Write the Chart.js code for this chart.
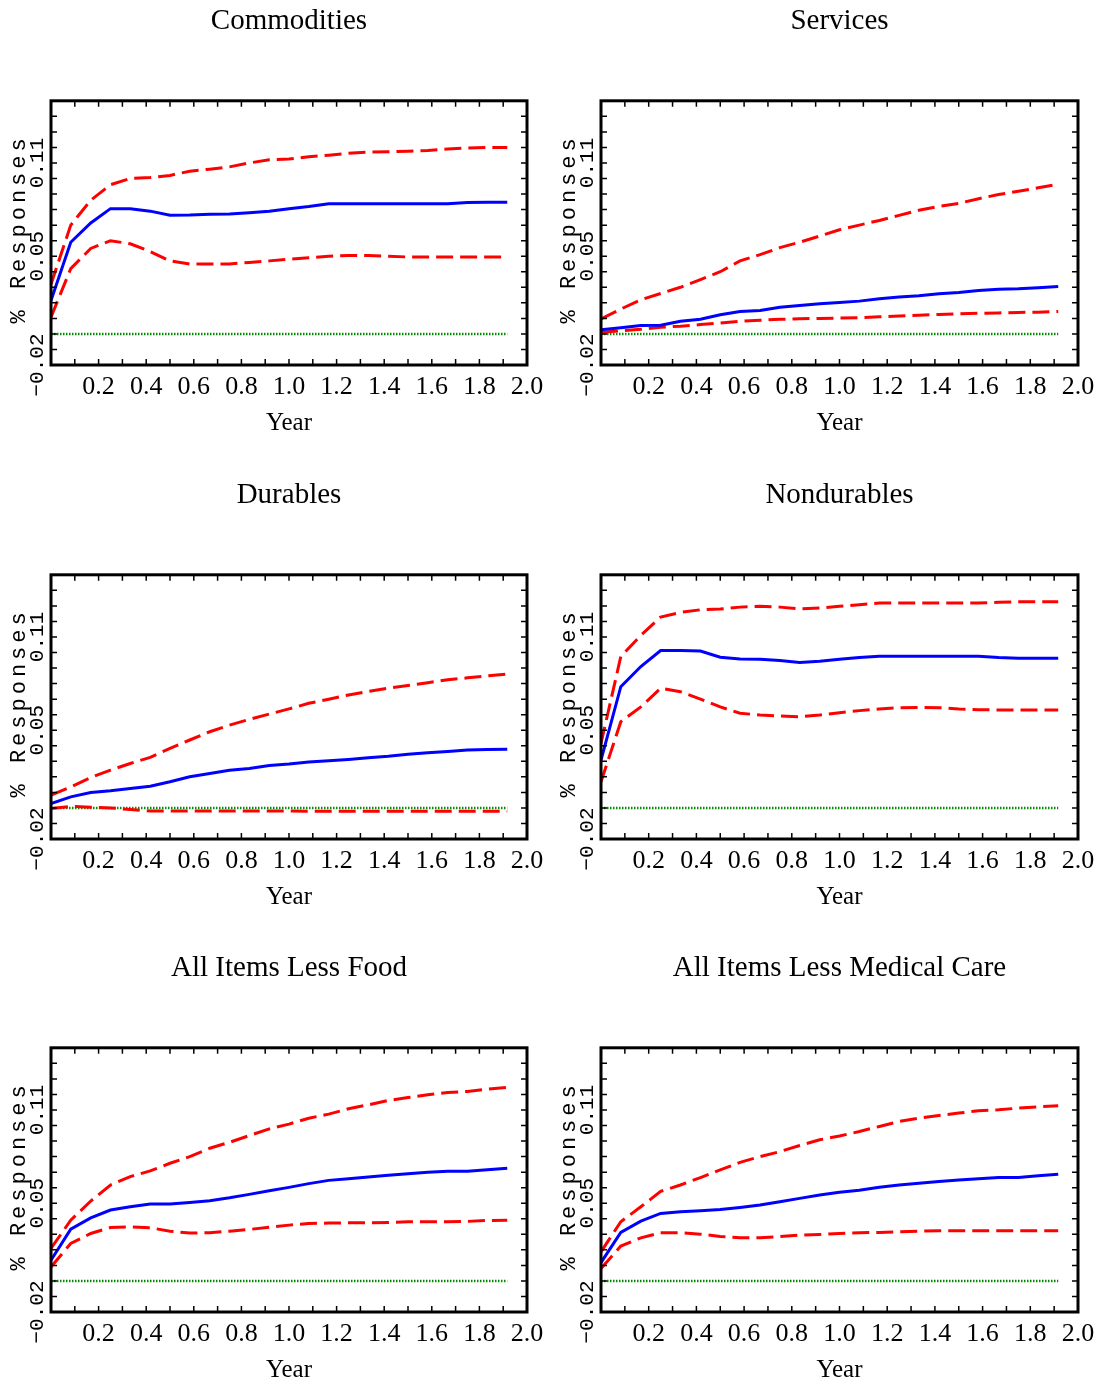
<!DOCTYPE html>
<html>
<head>
<meta charset="utf-8">
<script src="https://cdn.jsdelivr.net/npm/chart.js@4/dist/chart.umd.min.js"></script>
<style>
  body { margin: 0; background: #fff; overflow: hidden; }
  #page { position: relative; width: 1097px; height: 1388px; }
  canvas { position: absolute; }
</style>
</head>
<body>
<div id="page"></div>
<script>
// monthly horizon, in years
const years = [0, 0.083, 0.167, 0.25, 0.333, 0.417, 0.5, 0.583, 0.667, 0.75, 0.833, 0.917,
               1.0, 1.083, 1.167, 1.25, 1.333, 1.417, 1.5, 1.583, 1.667, 1.75, 1.833, 1.917];

const xTickLabels = ['0.2', '0.4', '0.6', '0.8', '1.0', '1.2', '1.4', '1.6', '1.8', '2.0'];
const yTickLabels = [-0.02, 0.05, 0.11];
const yAxisLabel = '% Responses';
const xAxisLabel = 'Year';

const commoditiesMid = [0.0215, 0.059, 0.0714, 0.0806, 0.0806, 0.079, 0.0763, 0.0765, 0.077, 0.0772, 0.078, 0.079,
                        0.0806, 0.082, 0.0838, 0.0838, 0.0838, 0.0838, 0.0838, 0.0838, 0.0838, 0.0845, 0.0848, 0.0848];
const commoditiesHi = [0.032, 0.070, 0.086, 0.096, 0.100, 0.1006, 0.102, 0.1047, 0.106, 0.1075, 0.110, 0.112,
                       0.1125, 0.114, 0.115, 0.1162, 0.117, 0.1172, 0.1176, 0.118, 0.119, 0.1196, 0.12, 0.12];
const commoditiesLo = [0.0108, 0.042, 0.055, 0.060, 0.058, 0.053, 0.047, 0.045, 0.045, 0.045, 0.046, 0.047,
                       0.048, 0.049, 0.050, 0.0505, 0.0505, 0.050, 0.0495, 0.0495, 0.0495, 0.0495, 0.0495, 0.0495];

const servicesMid = [0.0026, 0.0039, 0.0054, 0.0056, 0.0082, 0.0095, 0.0123, 0.0144, 0.0151, 0.0172, 0.0183, 0.0194,
                     0.0202, 0.0211, 0.0226, 0.0237, 0.0245, 0.0258, 0.0267, 0.028, 0.0288, 0.029, 0.0297, 0.0305];
const servicesHi = [0.0097, 0.016, 0.022, 0.026, 0.030, 0.035, 0.040, 0.047, 0.051, 0.0555, 0.059, 0.063,
                    0.067, 0.070, 0.073, 0.0763, 0.0796, 0.082, 0.084, 0.087, 0.0897, 0.0918, 0.094, 0.0963];
const servicesLo = [0.001, 0.002, 0.003, 0.0043, 0.005, 0.006, 0.007, 0.0082, 0.0088, 0.0094, 0.0098, 0.010,
                    0.0102, 0.0104, 0.011, 0.0115, 0.012, 0.0125, 0.013, 0.0133, 0.0135, 0.0138, 0.014, 0.0144];

const durablesMid = [0.0028, 0.0071, 0.0099, 0.011, 0.0125, 0.014, 0.0168, 0.020, 0.0221, 0.0243, 0.0254, 0.0273,
                     0.0282, 0.0295, 0.0303, 0.0312, 0.0323, 0.0333, 0.0346, 0.0355, 0.0363, 0.0372, 0.0376, 0.0378];
const durablesHi = [0.0082, 0.0135, 0.0196, 0.0243, 0.0286, 0.0325, 0.0383, 0.0437, 0.049, 0.0533, 0.057, 0.0604,
                    0.0637, 0.0673, 0.0699, 0.0727, 0.075, 0.077, 0.0787, 0.0806, 0.0824, 0.0837, 0.085, 0.0862];
const durablesLo = [-0.0004, 0.001, 0.0005, 0, -0.001, -0.002, -0.002, -0.002, -0.002, -0.002, -0.002, -0.002,
                    -0.002, -0.0022, -0.0022, -0.0022, -0.0022, -0.0022, -0.0022, -0.0022, -0.0022, -0.0022, -0.0022, -0.0022];

const nondurablesMid = [0.0308, 0.078, 0.091, 0.1013, 0.1013, 0.101, 0.097, 0.0959, 0.0957, 0.0948, 0.0935, 0.0944,
                        0.0957, 0.0968, 0.0976, 0.0976, 0.0976, 0.0976, 0.0976, 0.0976, 0.0968, 0.0963, 0.0963, 0.0963];
const nondurablesHi = [0.0415, 0.0974, 0.111, 0.1228, 0.1258, 0.1275, 0.128, 0.1292, 0.1297, 0.1292, 0.128, 0.1286,
                       0.1297, 0.1308, 0.1318, 0.1318, 0.1318, 0.1318, 0.1318, 0.1318, 0.1323, 0.1327, 0.1327, 0.1327];
const nondurablesLo = [0.0168, 0.0555, 0.065, 0.077, 0.0748, 0.070, 0.065, 0.0609, 0.0598, 0.0591, 0.0587, 0.0598,
                       0.0613, 0.0626, 0.0637, 0.0645, 0.0647, 0.0645, 0.0637, 0.0632, 0.063, 0.063, 0.063, 0.063];

const lessFoodMid = [0.0133, 0.0333, 0.0406, 0.0456, 0.0477, 0.0495, 0.0495, 0.0505, 0.0516, 0.0535, 0.0557, 0.058,
                     0.0602, 0.0626, 0.0647, 0.0658, 0.0669, 0.068, 0.069, 0.0699, 0.0705, 0.0705, 0.0716, 0.0725];
const lessFoodHi = [0.0209, 0.0391, 0.0514, 0.0617, 0.0671, 0.0708, 0.0757, 0.080, 0.0854, 0.0892, 0.0935, 0.0978,
                    0.1009, 0.1047, 0.1073, 0.1108, 0.1133, 0.1161, 0.118, 0.1198, 0.1213, 0.1219, 0.1234, 0.1245];
const lessFoodLo = [0.009, 0.0241, 0.0305, 0.0344, 0.0348, 0.0342, 0.032, 0.0308, 0.031, 0.032, 0.0331, 0.0346,
                    0.0359, 0.037, 0.0372, 0.0374, 0.0374, 0.0376, 0.038, 0.038, 0.038, 0.0383, 0.0389, 0.0391];

const lessMedicalMid = [0.0118, 0.0312, 0.0385, 0.0434, 0.0445, 0.0452, 0.046, 0.0473, 0.0488, 0.051, 0.0531, 0.0553,
                        0.057, 0.0583, 0.0602, 0.0617, 0.0628, 0.0639, 0.0649, 0.0658, 0.0665, 0.0665, 0.0677, 0.0686];
const lessMedicalHi = [0.0187, 0.0381, 0.0477, 0.0576, 0.0617, 0.0665, 0.0714, 0.0763, 0.080, 0.0832, 0.0871, 0.0908,
                       0.0933, 0.0961, 0.0994, 0.1026, 0.1047, 0.1065, 0.108, 0.1095, 0.1101, 0.1112, 0.112, 0.1127];
const lessMedicalLo = [0.008, 0.0224, 0.0277, 0.031, 0.031, 0.0301, 0.0286, 0.0277, 0.0277, 0.0286, 0.0295, 0.0299,
                       0.0305, 0.031, 0.0312, 0.0316, 0.032, 0.0323, 0.0323, 0.0323, 0.0323, 0.0323, 0.0323, 0.0323];

const baseline = 0;

const panels = [
  { title: 'Commodities', left: 0, top: 0, mid: commoditiesMid, hi: commoditiesHi, lo: commoditiesLo },
  { title: 'Services', left: 550, top: 0, mid: servicesMid, hi: servicesHi, lo: servicesLo },
  { title: 'Durables', left: 0, top: 474, mid: durablesMid, hi: durablesHi, lo: durablesLo },
  { title: 'Nondurables', left: 550, top: 474, mid: nondurablesMid, hi: nondurablesHi, lo: nondurablesLo },
  { title: 'All Items Less Food', left: 0, top: 947, mid: lessFoodMid, hi: lessFoodHi, lo: lessFoodLo },
  { title: 'All Items Less Medical Care', left: 550, top: 947, mid: lessMedicalMid, hi: lessMedicalHi, lo: lessMedicalLo }
];

const pts = vals => vals.map((v, i) => ({ x: years[i], y: v }));
const fmtY = v => (v < 0 ? '\u2212' + Math.abs(v).toFixed(2) : v.toFixed(2));

// frame, inward tick marks and the rotated y-side texts
const framePlugin = {
  id: 'frame',
  afterDatasetsDraw(chart) {
    const { ctx, chartArea: a, scales: { x, y } } = chart;
    ctx.save();
    ctx.strokeStyle = '#000';
    ctx.lineWidth = 1.5;
    ctx.beginPath();
    x.ticks.forEach(t => {
      const px = x.getPixelForValue(t.value);
      ctx.moveTo(px, a.bottom); ctx.lineTo(px, a.bottom - 6);
      ctx.moveTo(px, a.top); ctx.lineTo(px, a.top + 6);
    });
    y.ticks.forEach(t => {
      const py = y.getPixelForValue(t.value);
      ctx.moveTo(a.left, py); ctx.lineTo(a.left + 6, py);
      ctx.moveTo(a.right, py); ctx.lineTo(a.right - 6, py);
    });
    ctx.stroke();
    ctx.lineWidth = 3;
    ctx.strokeRect(a.left, a.top, a.right - a.left, a.bottom - a.top);

    ctx.fillStyle = '#000';
    ctx.textAlign = 'center';
    ctx.textBaseline = 'middle';
    ctx.font = '21px "Liberation Mono"';
    ctx.letterSpacing = '0px';
    yTickLabels.forEach(v => {
      ctx.save();
      ctx.translate(a.left - 14, y.getPixelForValue(v));
      ctx.rotate(-Math.PI / 2);
      ctx.fillText(fmtY(v), 0, 0);
      ctx.restore();
    });
    ctx.font = '22px "Liberation Mono"';
    ctx.letterSpacing = '4px';
    ctx.save();
    ctx.translate(a.left - 32, (a.top + a.bottom) / 2 - 4);
    ctx.rotate(-Math.PI / 2);
    ctx.fillText(yAxisLabel, 0, 0);
    ctx.restore();
    ctx.restore();
  }
};

const page = document.getElementById('page');

panels.forEach(p => {
  const canvas = document.createElement('canvas');
  const w = p.left === 0 ? 548 : 547;
  canvas.width = w;
  canvas.height = 441;
  canvas.style.left = p.left + 'px';
  canvas.style.top = p.top + 'px';
  page.appendChild(canvas);

  new Chart(canvas.getContext('2d'), {
    type: 'line',
    data: {
      datasets: [{
        data: pts(p.mid),
        borderColor: '#0000ff',
        borderWidth: 3,
        pointRadius: 0,
        tension: 0
      }, {
        data: pts(p.hi),
        borderColor: '#ff0000',
        borderWidth: 3,
        borderDash: [17, 7],
        pointRadius: 0,
        tension: 0
      }, {
        data: pts(p.lo),
        borderColor: '#ff0000',
        borderWidth: 3,
        borderDash: [17, 7],
        pointRadius: 0,
        tension: 0
      }, {
        data: [{ x: years[0], y: baseline }, { x: years[years.length - 1], y: baseline }],
        borderColor: 'rgb(0, 140, 0)',
        borderWidth: 2.5,
        borderDash: [1.5, 1.5],
        pointRadius: 0
      }]
    },
    options: {
      responsive: false,
      devicePixelRatio: 1,
      animation: false,
      layout: { padding: { left: 0, right: w - (p.left === 0 ? 527 : 528), top: 0, bottom: 0 } },
      scales: {
        x: {
          type: 'linear',
          min: 0,
          max: 2,
          grid: { display: false },
          border: { display: false },
          ticks: {
            stepSize: 0.1,
            autoSkip: false,
            maxRotation: 0,
            padding: -1,
            color: '#000',
            font: { family: '"Liberation Serif"', size: 26 },
            callback: v => {
              const s = Number(v).toFixed(1);
              return xTickLabels.includes(s) ? s : '';
            }
          },
          title: {
            display: true,
            text: xAxisLabel,
            color: '#000',
            font: { family: '"Liberation Serif"', size: 25 },
            padding: { top: 0, bottom: 3 }
          },
          afterFit: s => { s.height = 76; s.paddingLeft = 0; s.paddingRight = 0; }
        },
        y: {
          min: -0.02,
          max: 0.15,
          grid: { display: false },
          border: { display: false },
          ticks: { stepSize: 0.01, display: false },
          afterFit: s => { s.width = 51; s.paddingTop = 0; s.paddingBottom = 0; }
        }
      },
      plugins: {
        legend: { display: false },
        tooltip: { enabled: false },
        title: {
          display: true,
          fullSize: false,
          text: p.title,
          color: '#000',
          font: { family: '"Liberation Serif"', size: 29, weight: 'normal' },
          padding: { top: 4, bottom: 62 }
        }
      }
    },
    plugins: [framePlugin]
  });
});
</script>
</body>
</html>
